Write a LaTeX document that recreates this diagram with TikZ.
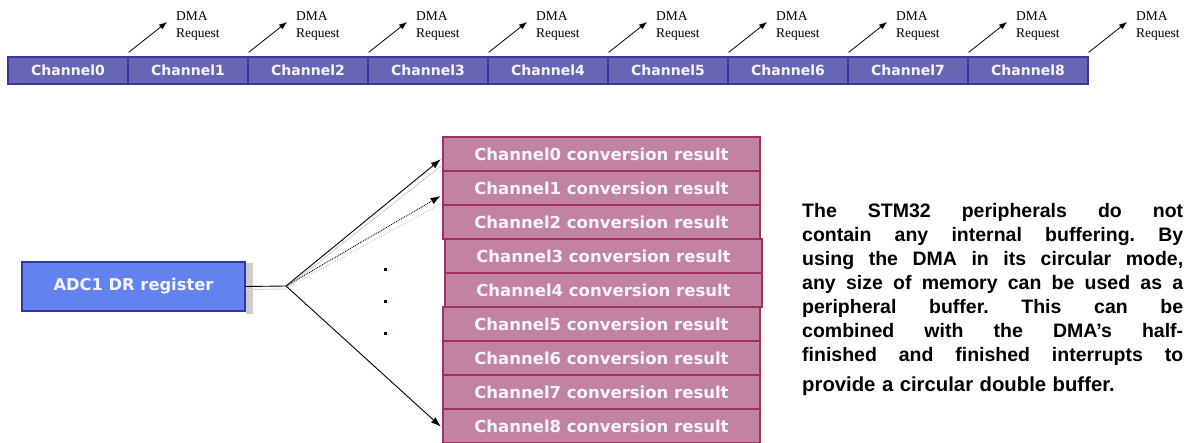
\documentclass[tikz,border=0pt]{standalone}
\usepackage{fontspec}
\newfontfamily\vfont{DejaVu Sans}
\newfontfamily\afont{Liberation Sans}
\newfontfamily\tfont{Liberation Serif}
\usetikzlibrary{arrows.meta,calc}
\definecolor{barfill}{HTML}{6666B4}
\definecolor{barline}{HTML}{3838A0}
\definecolor{adcfill}{HTML}{6282F0}
\definecolor{adcline}{HTML}{3434A8}
\definecolor{resfill}{HTML}{C283A3}
\definecolor{resline}{HTML}{A03262}
\definecolor{txtw}{HTML}{F6F4FA}
\newcommand\jline[1]{\leavevmode\hbox to 381pt{\spaceskip=0.28em plus 1fil\relax\xspaceskip=\spaceskip #1}}
\begin{document}
\begin{tikzpicture}[x=1pt,y=-1pt,
  topcell/.style={draw=barline, fill=barfill, line width=1.2pt, minimum width=120pt,
    minimum height=27pt, inner sep=0pt, text=txtw,
    font=\vfont\bfseries\fontsize{14}{14}\selectfont},
  resbox/.style={draw=resline, fill=resfill, line width=1.4pt, minimum width=317pt,
    minimum height=34pt, inner sep=0pt, text=txtw,
    font=\vfont\bfseries\fontsize{16.5}{16.5}\selectfont},
  adcbox/.style={draw=adcline, fill=adcfill, line width=1.4pt, minimum width=223pt,
    minimum height=49pt, inner sep=0pt, text=txtw,
    font=\vfont\bfseries\fontsize{16.3}{16.3}\selectfont},
  req/.style={align=left, inner sep=0pt, font=\tfont\fontsize{13.5}{17}\selectfont, anchor=west},
  reqarrow/.style={-{Latex[length=8pt,width=6pt]}, line width=0.8pt},
  conn/.style={-{Latex[length=10pt,width=7pt]}, line width=0.9pt, shorten >=2pt},
  ghost/.style={draw=gray!35, line width=1pt},
  bodytext/.style={anchor=north west, inner sep=0pt, text width=381pt, align=left,
    font=\afont\bfseries\fontsize{19.5}{24}\selectfont}
]
\useasboundingbox (0,0) rectangle (1184,443);

% top channel bar
\foreach \i in {0,...,8} {
  \node[topcell] (c\i) at ({68+120*\i},70.5) {Channel\i};
}
% DMA requests
\foreach \i in {0,...,8} {
  \coordinate (e\i) at ({167+120*\i},22);
  \node[req] (d\i) at ({176+120*\i},26) {DMA\\Request};
  \draw[reqarrow] ([yshift=4pt]c\i.north east) -- (e\i);
}

% conversion result boxes
\foreach \i/\xx in {0/601.5,1/601.5,2/601.5,3/603.5,4/603.5,5/601.5,6/601.5,7/601.5,8/601.5} {
  \node[resbox] (r\i) at (\xx,{154+34*\i}) {Channel\i\ conversion result};
}

% ADC register
\node[adcbox] (adc) at (133.5,286.5) {ADC1 DR register};
\fill[gray!40] ($(adc.north east)+(0.7,2)$) rectangle ($(adc.south east)+(7,2)$);

\coordinate (split) at (286,286);
\draw[ghost] ([yshift=-3pt]adc.east) -- ([yshift=-3pt]split);
\draw[ghost] ([yshift=-2pt]split) -- ([yshift=-11pt]r0.west);
\draw[ghost, densely dotted] ([yshift=-2pt]split) -- ([yshift=-15pt]r1.west);
\draw[line width=0.9pt] (adc.east) -- (split);
\draw[conn] (split) -- ([yshift=-4pt]r0.west);
\draw[conn, densely dotted] (split) -- ([yshift=-7pt]r1.west);
\draw[conn] (split) -- ([yshift=-2pt]r8.west);

% vertical ellipsis dots
\foreach \yy in {268,300,332} {
  \fill[black!70!blue] (384,\yy) rectangle (387,\yy+3);
}

% description
\node[bodytext] (txt) at (802,202.7) {%
\jline{The STM32 peripherals do not}\\
\jline{contain any internal buffering. By}\\
\jline{using the DMA in its circular mode,}\\
\jline{any size of memory can be used as a}\\
\jline{peripheral buffer. This can be}\\
\jline{combined with the DMA’s half-}\\
\jline{finished and finished interrupts to}\\[6pt]
{\fontsize{20.3}{24}\selectfont provide a circular double buffer.}};
\end{tikzpicture}
\end{document}
